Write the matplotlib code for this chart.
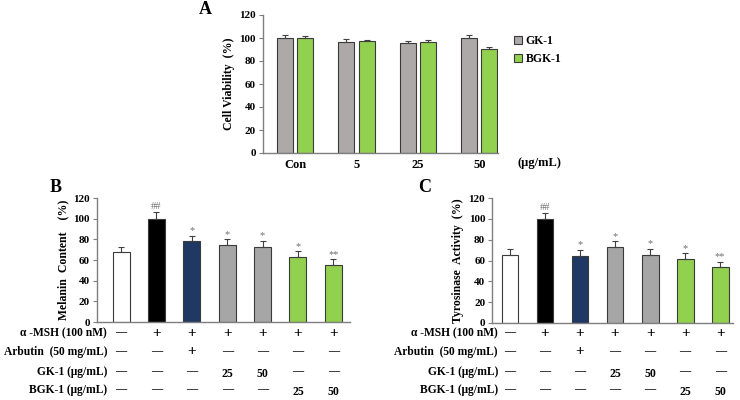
import matplotlib
matplotlib.use('Agg')
import matplotlib.pyplot as plt
import numpy as np
from matplotlib.transforms import blended_transform_factory

plt.rcParams['font.family'] = ['Liberation Serif', 'DejaVu Serif']
plt.rcParams['font.weight'] = 'bold'

# Panel A data
a_groups = ['Con', '5', '25', '50']
a_gk = [100, 96.5, 95.5, 100]
a_gk_err = [2.5, 2.5, 2.3, 2.4]
a_bgk = [100, 97.5, 96.5, 90.5]
a_bgk_err = [1.8, 1.0, 1.5, 1.5]

# Panel B data
b_vals = [68, 100, 78, 75, 73, 63, 55]
b_err = [5, 6.5, 5.5, 5, 5.5, 5.5, 5.5]
b_marks = ['', '##', '*', '*', '*', '*', '**']

# Panel C data
c_vals = [65, 100, 64, 73, 65, 61.5, 53.5]
c_err = [6, 6, 6, 5.5, 6.5, 5.5, 5]
c_marks = ['', '##', '*', '*', '*', '*', '**']

# treatment table
row_labels = ['α -MSH (100 nM)', 'Arbutin  (50 mg/mL)', 'GK-1 (μg/mL)', 'BGK-1 (μg/mL)']
row_msh = ['—', '+', '+', '+', '+', '+', '+']
row_arb = ['—', '—', '+', '—', '—', '—', '—']
row_gk = ['—', '—', '—', '25', '50', '—', '—']
row_bgk = ['—', '—', '—', '—', '—', '25', '50']

bar_colors = ['white', 'black', '#1F3864', '#A6A6A6', '#A6A6A6', '#92D050', '#92D050']
edge = '#3a3a3a'
spine_col = '#7f7f7f'

fig = plt.figure(figsize=(7.4, 4.0), dpi=100)


def style_axes(ax):
    for s in ['top', 'right']:
        ax.spines[s].set_visible(False)
    for s in ['left', 'bottom']:
        ax.spines[s].set_color(spine_col)
        ax.spines[s].set_linewidth(1.0)
    ax.set_ylim(0, 120)
    ax.set_yticks(np.arange(0, 121, 20))
    ax.tick_params(axis='y', labelsize=8, length=3, width=0.8, color=spine_col, pad=2)
    for t in ax.get_yticklabels():
        t.set_fontweight('bold')


# ---- Panel A ----
axA = fig.add_axes([0.3554, 0.6175, 0.318, 0.345])
x = np.arange(len(a_groups))
w = 0.26
off = 0.165
errkw = dict(ecolor='#404040', elinewidth=0.8, capsize=2, capthick=0.8)
axA.bar(x - off, a_gk, w, color='#ADA9A9', edgecolor=edge, linewidth=0.8, label='GK-1',
        yerr=[np.zeros(4), a_gk_err], error_kw=errkw)
axA.bar(x + off, a_bgk, w, color='#92D050', edgecolor=edge, linewidth=0.8, label='BGK-1',
        yerr=[np.zeros(4), a_bgk_err], error_kw=errkw)
style_axes(axA)
axA.set_xlim(-0.52, 3.31)
axA.set_xticks(x)
axA.set_xticklabels(a_groups, fontsize=9, fontweight='bold')
axA.tick_params(axis='x', length=0, pad=4)
axA.set_ylabel('Cell Viability  (%)', fontsize=8.5, fontweight='bold', labelpad=3)
axA.legend(loc='upper left', bbox_to_anchor=(1.02, 0.93), frameon=False,
           handlelength=0.7, handleheight=0.7, handletextpad=0.3, labelspacing=0.5,
           prop={'weight': 'bold', 'size': 8.5})
fig.text(517 / 740, 1 - 163 / 400, '(μg/mL)', fontsize=9, fontweight='bold', ha='left', va='center')
fig.text(205 / 740, 1 - 9 / 400, 'A', fontsize=13, fontweight='bold', ha='center', va='center')


def draw_panel(rect, xlim, vals, errs, marks, ylabel, letter, letter_xy, label_x):
    ax = fig.add_axes(rect)
    xs = np.arange(len(vals))
    ax.bar(xs, vals, 0.48, color=bar_colors, edgecolor=edge, linewidth=0.8,
           yerr=[np.zeros(len(vals)), errs], error_kw=errkw)
    for xi, v, e, m in zip(xs, vals, errs, marks):
        if m:
            ax.text(xi, v + e + 0.5, m, ha='center', va='bottom', fontsize=7.5,
                    color='#707070', fontweight='normal')
    style_axes(ax)
    ax.set_xlim(*xlim)
    ax.set_xticks([])
    ax.set_ylabel(ylabel, fontsize=8.5, fontweight='bold', labelpad=3)
    fig.text(letter_xy[0] / 740, 1 - letter_xy[1] / 400, letter, fontsize=13,
             fontweight='bold', ha='center', va='center')
    tr = blended_transform_factory(ax.transData, fig.transFigure)
    rows = [row_msh, row_arb, row_gk, row_bgk]
    row_y = [333, 352, 372, 390]
    for lab, row, py in zip(row_labels, rows, row_y):
        yf = 1 - py / 400
        fig.text(label_x / 740, yf, lab, fontsize=8.3, fontweight='bold', ha='right', va='center')
        for xi, s in zip(xs, row):
            if s == '+':
                ax.text(xi, yf, s, transform=tr, fontsize=11, fontweight='bold',
                        ha='center', va='center', clip_on=False)
            elif s == '—':
                ax.text(xi, yf, s, transform=tr, fontsize=8, fontweight='bold',
                        ha='center', va='center', clip_on=False)
            else:
                ax.text(xi, yf - 0.005, s, transform=tr, fontsize=8.5, fontweight='bold',
                        ha='center', va='center', clip_on=False)
    return ax


draw_panel([0.131, 0.195, 0.342, 0.31], (-0.68, 6.47), b_vals, b_err, b_marks,
           'Melanin  Content    (%)', 'B', (56, 188), 107)
draw_panel([0.665, 0.1925, 0.3257, 0.3125], (-0.51, 6.37), c_vals, c_err, c_marks,
           'Tyrosinase  Activity  (%)', 'C', (425, 188), 498)

fig.savefig('out.png', dpi=100)
